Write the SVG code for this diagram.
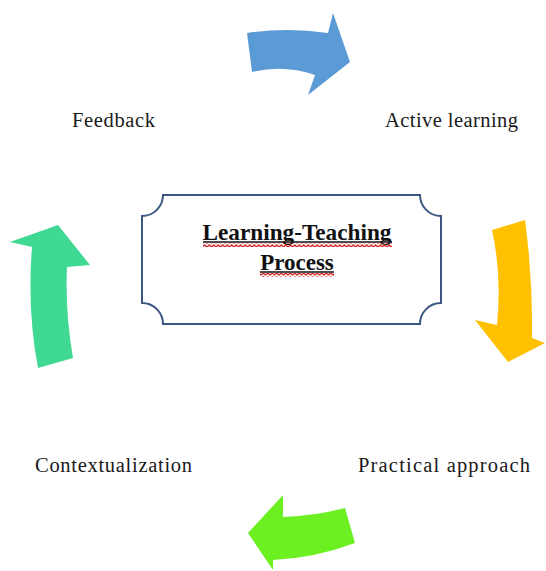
<svg xmlns="http://www.w3.org/2000/svg" width="546" height="571" viewBox="0 0 546 571">
<style>
.lbl{font-family:"Liberation Serif","Times New Roman",serif;font-size:20.5px;fill:#1a1a1a}
.title{font-family:"Liberation Serif","Times New Roman",serif;font-size:23px;font-weight:bold;fill:#111;text-anchor:middle}
.box{fill:#fff;stroke:#3a5683;stroke-width:2}
.ul{stroke:#111;stroke-width:1.3}
</style>
<defs>
<pattern id="wavy" x="0" y="0" width="4.5" height="4" patternUnits="userSpaceOnUse">
<path d="M0 3.2 L2.25 0.8 L4.5 3.2" fill="none" stroke="#d42020" stroke-width="1.3"/>
</pattern>
</defs>
<rect width="546" height="571" fill="#fff"/>
<g id="connectors">
<path id="arrow-blue" fill="#5b9bd5" d="M247 33 Q287 27 328 33 L333 13 L350 62 L308 95 L315 75 Q284 64 252 72 Z"/>
<path id="arrow-yellow" fill="#ffc000" d="M492 230 L525 220 Q533 280 532 338 L545 343 L508 362 L475 320 L497 325 Q502 275 492 230 Z"/>
<path id="arrow-lime" fill="#6cf022" d="M345 508 Q314 516 283 517 L283 495 L248 533 L273 570 L273 560 Q315 558 355 543 Z"/>
<path id="arrow-teal" fill="#3fd993" d="M38 368 L73 358 Q65 312 67 267 L90 265 L58 225 L10 242 L32 247 Q27 310 38 368 Z"/>
</g>
<g id="center">
<path class="box" d="M163 195 L420 195 A21 21 0 0 0 441 216 L441 303 A21 21 0 0 0 420 324 L163 324 A21 21 0 0 0 142 303 L142 216 A21 21 0 0 0 163 195 Z"/>
<text class="title" x="297" y="240" textLength="189" lengthAdjust="spacingAndGlyphs">Learning-Teaching</text>
<text class="title" x="297" y="270">Process</text>
<line class="ul" x1="203" y1="242" x2="392" y2="242"/>
<line class="ul" x1="260" y1="272" x2="334" y2="272"/>
<rect x="203" y="243" width="189" height="4" fill="url(#wavy)"/>
<rect x="260" y="273" width="74" height="4" fill="url(#wavy)"/>
</g>
<g id="feedback"><text class="lbl" x="72" y="127" textLength="83">Feedback</text></g>
<g id="active-learning"><text class="lbl" x="385" y="127" textLength="133">Active learning</text></g>
<g id="contextualization"><text class="lbl" x="35" y="472" textLength="157">Contextualization</text></g>
<g id="practical-approach"><text class="lbl" x="358" y="472" textLength="172">Practical approach</text></g>
</svg>
